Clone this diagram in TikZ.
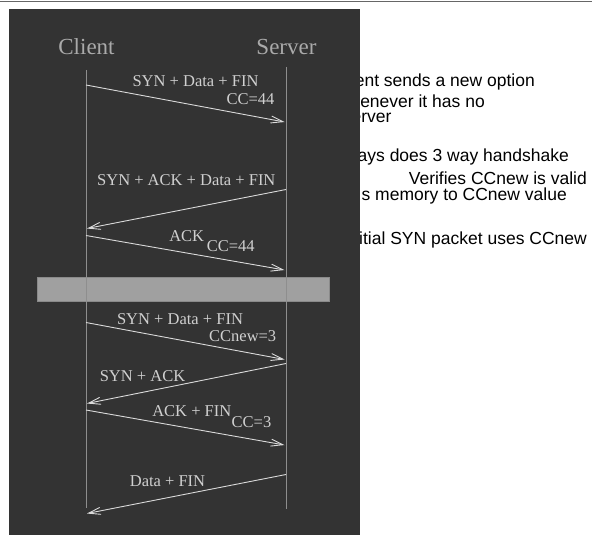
\documentclass[tikz,border=0pt]{standalone}
\usepackage{fontspec}
\setmainfont{Liberation Serif}
\newfontfamily\notefont{Liberation Sans}
\usetikzlibrary{arrows.meta}
\definecolor{bgdark}{HTML}{333333}
\definecolor{lifec}{HTML}{8E8E8E}
\definecolor{msgc}{HTML}{DADADA}
\definecolor{labc}{HTML}{D0D0D0}
\definecolor{headc}{HTML}{AAAAAA}
\definecolor{barc}{HTML}{A0A0A0}
\definecolor{barb}{HTML}{8A8A8A}
\tikzset{
  lifeline/.style={draw=lifec, line width=1pt},
  msg/.style={draw=msgc, line width=0.9pt, -{Straight Barb[length=12pt,width=7pt,line width=0.9pt]}},
  msglabel/.style={text=labc, inner sep=0pt, anchor=base, font=\fontsize{16.5}{18}\selectfont},
  head/.style={text=headc, inner sep=0pt, anchor=base, font=\fontsize{23}{26}\selectfont},
  note/.style={text=black, inner sep=0pt, anchor=base east, font=\notefont\fontsize{17.5}{19}\selectfont},
}
\begin{document}
\begin{tikzpicture}[x=1pt,y=-1pt]
\useasboundingbox (0,0) rectangle (592,535);
% notes (partly hidden by the panel)
\node[note] (n1) at (535,86) {Client sends a new option};
\node[note] (n2) at (485,107) {CC whenever it has no};
\node[note] (n3) at (391.7,122.5) {server};
\node[note] (n4) at (569,161) {Always does 3 way handshake};
\node[note] (n5) at (587,184) {Verifies CCnew is valid};
\node[note] (n6) at (567,200) {s memory to CCnew value};
\node[note] (n7) at (587,244) {Initial SYN packet uses CCnew};
% panel
\fill[bgdark] (9,9) rectangle (360,535);
\draw[draw=gray!80!black, line width=1.4pt] (0,1.5) -- (592,1.5);
% bar
\draw[fill=barc, draw=barb, line width=1pt] (37.5,277.5) rectangle (329,301.5);
% headings
\node[head] (client) at (86.5,55) {Client};
\node[head] (server) at (286.5,55) {Server};
% lifelines
\coordinate (ct) at (86,70);
\coordinate (cb) at (86,508);
\coordinate (st) at (286,67);
\coordinate (sb) at (286,508.5);
\draw[lifeline] (ct) -- (cb);
\draw[lifeline] (st) -- (sb);
% message endpoints
\coordinate (c1) at (86,85);
\coordinate (s1) at (284.5,122);
\coordinate (s2) at (286,189.5);
\coordinate (c2) at (87,228.5);
\coordinate (c3) at (86,235.5);
\coordinate (s3) at (284.5,270);
\coordinate (c4) at (86,322.5);
\coordinate (s4) at (284.5,359.5);
\coordinate (s5) at (286,363.5);
\coordinate (c5) at (87,403.5);
\coordinate (c6) at (86,410);
\coordinate (s6) at (284.5,445);
\coordinate (s7) at (286,474.5);
\coordinate (c7) at (87,513.5);
\draw[msg] (c1) -- (s1);
\draw[msg] (s2) -- (c2);
\draw[msg] (c3) -- (s3);
\draw[msg] (c4) -- (s4);
\draw[msg] (s5) -- (c5);
\draw[msg] (c6) -- (s6);
\draw[msg] (s7) -- (c7);
% labels
\node[msglabel] (l1) at (195.5,87) {SYN + Data + FIN};
\node[msglabel] (l1b) at (250.5,105) {CC=44};
\node[msglabel] (l2) at (186.3,185) {SYN + ACK + Data + FIN};
\node[msglabel] (l3) at (186.7,241.7) {ACK};
\node[msglabel] (l3b) at (230.8,251.7) {CC=44};
\node[msglabel] (l4) at (180,324.3) {SYN + Data + FIN};
\node[msglabel] (l4b) at (242.7,341.7) {CCnew=3};
\node[msglabel] (l5) at (142.5,381.7) {SYN + ACK};
\node[msglabel] (l6) at (191.8,416.7) {ACK + FIN};
\node[msglabel] (l6b) at (251.5,427.3) {CC=3};
\node[msglabel] (l7) at (167.5,486.7) {Data + FIN};
\end{tikzpicture}
\end{document}
